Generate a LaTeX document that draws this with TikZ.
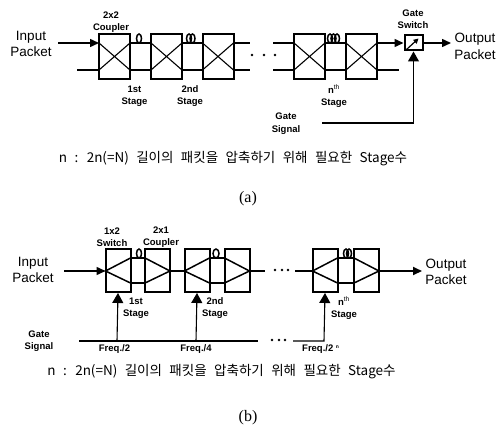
\documentclass[tikz,border=0pt]{standalone}
\usepackage{fontspec}
\setmainfont{Liberation Sans}
\newfontfamily\cjkfont{Noto Sans CJK KR}
\newfontfamily\serfont{Liberation Serif}
\usetikzlibrary{arrows.meta}
\newcommand{\widesp}{\spaceskip=0.55em\relax}
\tikzset{
  box/.style={draw,line width=2pt,inner sep=0pt,minimum width=#1,minimum height=43pt},
  box/.default=31pt,
  link/.style={line width=1.5pt},
  thin link/.style={line width=1.1pt},
  arrowed/.style={-{Triangle[length=9pt,width=8pt]}},
  bigarrow/.style={-{Triangle[length=10pt,width=11pt]}},
  big label/.style={font=\fontsize{13.5}{16.5}\selectfont,align=center,inner sep=0pt},
  small label/.style={font=\fontsize{9.5}{12.5}\selectfont\bfseries,align=center,inner sep=0pt},
  caption/.style={font=\fontsize{13.5}{15}\selectfont\cjkfont,inner sep=0pt},
  panel/.style={font=\fontsize{16}{18}\selectfont\serfont,inner sep=0pt},
  loopy/.style={line width=1.5pt},
  dotty/.style={circle,fill=black,inner sep=0pt,minimum size=2.8pt}
}
\newcommand{\xcoupler}[2]{%
  \node[box,minimum height=45pt] (#1) at (#2,56.5) {};
  \coordinate (#1il) at (#2-15.5,43);
  \coordinate (#1ir) at (#2+15.5,43);
  \coordinate (#1jl) at (#2-15.5,70);
  \coordinate (#1jr) at (#2+15.5,70);
  \draw[thin link] (#1il) -- (#1jr) (#1jl) -- (#1ir);
}
\newcommand{\splitbox}[2]{%
  \node[box=25pt] (#1) at (#2,270.5) {};
  \coordinate (#1w) at (#2-12.5,271);
  \coordinate (#1a) at (#2+12.5,258);
  \coordinate (#1b) at (#2+12.5,283);
  \draw[link] (#1a) -- (#1w) -- (#1b);
}
\newcommand{\joinbox}[2]{%
  \node[box=25pt] (#1) at (#2,270.5) {};
  \coordinate (#1e) at (#2+12.5,271);
  \coordinate (#1a) at (#2-12.5,258);
  \coordinate (#1b) at (#2-12.5,283);
  \draw[link] (#1a) -- (#1e) -- (#1b);
}
\begin{document}
\begin{tikzpicture}[x=1pt,y=-1pt]
\useasboundingbox (0,0) rectangle (497,433);
\fill[white] (0,0) rectangle (497,433);
% ---------- (a)
\xcoupler{a1}{114.5}
\xcoupler{a2}{166.5}
\xcoupler{a3}{218}
\xcoupler{a4}{309.5}
\xcoupler{a5}{361.5}
\coordinate (ain) at (58,43);
\coordinate (ainb) at (77,70);
\draw[link,arrowed] (ain) -- (a1il);
\draw[link] (ainb) -- (a1jl);
\draw[link] (a1ir) -- (a2il) (a1jr) -- (a2jl);
\draw[link] (a2ir) -- (a3il) (a2jr) -- (a3jl);
\coordinate (a3x) at (250,43); \coordinate (a3y) at (250,70);
\coordinate (a4x) at (273,43); \coordinate (a4y) at (273,70);
\draw[link] (a3ir) -- (a3x) (a3jr) -- (a3y);
\draw[link] (a4x) -- (a4il) (a4y) -- (a4jl);
\draw[link] (a4ir) -- (a5il) (a4jr) -- (a5jl);
\draw[loopy] (139,38.5) ellipse (2.5 and 4.5);
\draw[loopy] (189,38.5) ellipse (2.5 and 4.5) (192.5,38.5) ellipse (2.5 and 4.5);
\draw[loopy] (330,38.5) ellipse (2.5 and 4.5) (333.5,38.5) ellipse (2.5 and 4.5) (337,38.5) ellipse (2.5 and 4.5);
\node[dotty] at (252,55) {}; \node[dotty] at (264,55) {}; \node[dotty] at (275,55) {};
\node[draw,line width=2pt,minimum width=18pt,minimum height=15pt,inner sep=0pt] (gs) at (413.5,43) {};
\draw[line width=1.2pt,-{Triangle[length=5pt,width=5pt]}] (gs.south west) ++(3,-2) -- ++(12,-11);
\coordinate (a5e) at (399,70);
\draw[link,arrowed] (a5ir) -- (gs.west);
\draw[link] (a5jr) -- (a5e);
\draw[link,arrowed] (gs.east) -- (451,43);
\coordinate (gsig) at (322,123);
\coordinate (gcorner) at (413.5,123);
\draw[thin link,bigarrow] (gsig) -- (gcorner) -- (gs.south);
\node[big label] (t1) at (31,44) {Input\\Packet};
\node[big label] (t2) at (475,46.5) {Output\\Packet};
\node[small label] (t3) at (111,22) {2x2\\Coupler};
\node[small label] (t4) at (134.5,96) {1st\\Stage};
\node[small label] (t5) at (190,96) {2nd\\Stage};
\node[small label] (t6) at (334,96) {n$^{\mathrm{th}}$\\Stage};
\node[small label] (t7) at (413,19) {Gate\\Switch};
\node[small label] (t8) at (286,123.5) {Gate\\Signal};
\node[caption] (c1) at (233,159) {\widesp n : 2n(=N) 길이의 패킷을 압축하기 위해 필요한 Stage수};
\node[panel] (p1) at (248,199) {(a)};
% ---------- (b)
\splitbox{s1}{118}
\joinbox{c1b}{157.5}
\splitbox{s2}{197}
\joinbox{c2b}{237}
\splitbox{s3}{325}
\joinbox{c3b}{366.5}
\draw[link] (s1a) -- (c1ba) (s1b) -- (c1bb);
\draw[link] (s2a) -- (c2ba) (s2b) -- (c2bb);
\draw[link] (s3a) -- (c3ba) (s3b) -- (c3bb);
\draw[link] (c1be) -- (s2w);
\coordinate (bin) at (64,271);
\draw[link,arrowed] (bin) -- (s1w);
\coordinate (c2x) at (265,271); \coordinate (s3x) at (295,271);
\draw[link] (c2be) -- (c2x);
\draw[link] (s3x) -- (s3w);
\coordinate (bout) at (422,271);
\draw[line width=2pt,arrowed] (c3be) -- (bout);
\draw[loopy] (139,253.5) ellipse (2.5 and 4.5);
\draw[loopy] (216,253.5) ellipse (3 and 4.5);
\draw[loopy] (346,253.5) ellipse (2.5 and 4.5) (349,253.5) ellipse (2.5 and 4.5);
\node[dotty] at (275,270) {}; \node[dotty] at (282,270) {}; \node[dotty] at (288,270) {};
\node[dotty] at (272,340) {}; \node[dotty] at (279,340) {}; \node[dotty] at (285,340) {};
\coordinate (g0) at (79,341); \coordinate (g1) at (258,341);
\coordinate (g2) at (293,341); \coordinate (g3) at (324,341);
\coordinate (g4) at (117,341); \coordinate (g5) at (196,341);
\draw[thin link] (g0) -- (g1);
\draw[thin link,bigarrow] (g2) -- (g3) -- (s3.south);
\draw[thin link,bigarrow] (g4) -- (s1.south);
\draw[thin link,bigarrow] (g5) -- (s2.south);
\node[big label] (u1) at (33,270) {Input\\Packet};
\node[big label] (u2) at (446,272) {Output\\Packet};
\node[small label] (u3) at (112,237) {1x2\\Switch};
\node[small label] (u4) at (161,237) {2x1\\Coupler};
\node[small label] (u5) at (136,308) {1st\\Stage};
\node[small label] (u6) at (215,308) {2nd\\Stage};
\node[small label] (u7) at (344,308) {n$^{\mathrm{th}}$\\Stage};
\node[small label] (u8) at (39,341) {Gate\\Signal};
\node[small label] (u9) at (114.5,349) {Freq./2};
\node[small label] (u10) at (196,349) {Freq./4};
\node[small label,anchor=west] (u11) at (302,349) {Freq./2 \raisebox{3pt}{\fontsize{5}{6}\selectfont n}};
\node[caption] (c2) at (221.5,372) {\widesp n : 2n(=N) 길이의 패킷을 압축하기 위해 필요한 Stage수};
\node[panel] (p2) at (248,418) {(b)};
\end{tikzpicture}
\end{document}
